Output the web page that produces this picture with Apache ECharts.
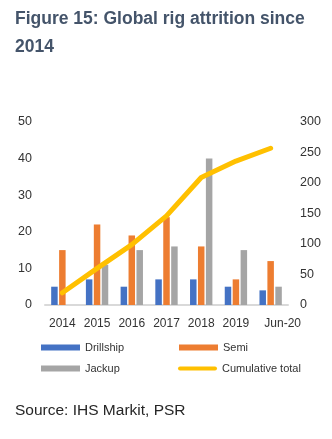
<!DOCTYPE html>
<html>
<head>
<meta charset="utf-8">
<script src="https://cdn.jsdelivr.net/npm/echarts@6/dist/echarts.min.js"></script>
<style>
  html, body { margin: 0; padding: 0; background: #fff; }
  #chart { width: 332px; height: 439px; }
</style>
</head>
<body>
<div id="chart"></div>
<script>
// Rigs retired per year by type, plus running total
var categories = ['2014', '2015', '2016', '2017', '2018', '2019', 'Jun-20'];
var drillship = [5, 7, 5, 7, 7, 5, 4];
var semi = [15, 22, 19, 24, 16, 7, 12];
var jackup = [0, 11, 15, 16, 40, 15, 5];
var cumulative = [20, 60, 99, 146, 209, 236, 257];
var leftTicks = [0, 10, 20, 30, 40, 50];
var rightTicks = [0, 50, 100, 150, 200, 250, 300];

var FONT = '"Liberation Sans", Arial, sans-serif';
var TXT = '#333333';
// rounded bar used as the legend key of the line series
var ROUND_LINE = 'path://M2,0 H37 A2,2 0 0 1 37,4 H2 A2,2 0 0 1 2,0 Z';

var chart = echarts.init(document.getElementById('chart'), null, { renderer: 'canvas' });

function legendItem(name, left, top, icon, h) {
  return {
    data: [name],
    left: left,
    top: top,
    padding: 0,
    itemWidth: 39,
    itemHeight: h || 6,
    icon: icon,
    textStyle: { fontFamily: FONT, fontSize: 11, color: TXT },
    selectedMode: false
  };
}

chart.setOption({
  animation: false,
  title: [
    {
      text: 'Figure 15: Global rig attrition since\n2014',
      left: 15,
      top: 5,
      padding: 0,
      textStyle: { fontFamily: FONT, fontSize: 17.5, fontWeight: 'bold', color: '#44546A', lineHeight: 28 }
    },
    {
      text: 'Source: IHS Markit, PSR',
      left: 15,
      top: 402,
      padding: 0,
      textStyle: { fontFamily: FONT, fontSize: 15.5, fontWeight: 'normal', color: '#262626', lineHeight: 18 }
    }
  ],
  legend: [
    legendItem('Drillship', 41, 342, 'rect'),
    legendItem('Semi', 179, 342, 'rect'),
    legendItem('Jackup', 41, 363, 'rect'),
    legendItem('Cumulative total', 178, 363, ROUND_LINE, 4)
  ],
  grid: { left: 45, right: 44, top: 122, bottom: 134, containLabel: false },
  xAxis: {
    type: 'category',
    data: categories,
    axisLine: { lineStyle: { color: '#D9D9D9', width: 2 } },
    axisTick: { show: false },
    axisLabel: {
      fontFamily: FONT, fontSize: 12, color: TXT, margin: 13, interval: 0,
      formatter: function (v, i) {
        return i === categories.length - 1 ? '{last|' + v + '}' : v;
      },
      rich: { last: { fontFamily: FONT, fontSize: 12, color: TXT, padding: [0, 0, 0, 24] } }
    }
  },
  yAxis: [
    {
      type: 'value', min: leftTicks[0], max: leftTicks[leftTicks.length - 1], interval: 10,
      splitLine: { show: false }, axisLine: { show: false }, axisTick: { show: false },
      axisLabel: { fontFamily: FONT, fontSize: 12.5, color: TXT, margin: 13 }
    },
    {
      type: 'value', min: rightTicks[0], max: rightTicks[rightTicks.length - 1], interval: 50,
      splitLine: { show: false }, axisLine: { show: false }, axisTick: { show: false },
      axisLabel: { fontFamily: FONT, fontSize: 12.5, color: TXT, margin: 12 }
    }
  ],
  series: [
    { name: 'Drillship', type: 'bar', data: drillship, barWidth: 6.5, barGap: '22%', itemStyle: { color: '#4472C4' } },
    { name: 'Semi', type: 'bar', data: semi, barWidth: 6.5, barGap: '22%', itemStyle: { color: '#ED7D31' } },
    { name: 'Jackup', type: 'bar', data: jackup, barWidth: 6.5, barGap: '22%', itemStyle: { color: '#A5A5A5' } },
    {
      name: 'Cumulative total', type: 'line', yAxisIndex: 1, data: cumulative,
      symbol: 'none', z: 5,
      lineStyle: { color: '#FFC000', width: 5, cap: 'round', join: 'round' },
      itemStyle: { color: '#FFC000' }
    }
  ]
});
</script>
</body>
</html>
